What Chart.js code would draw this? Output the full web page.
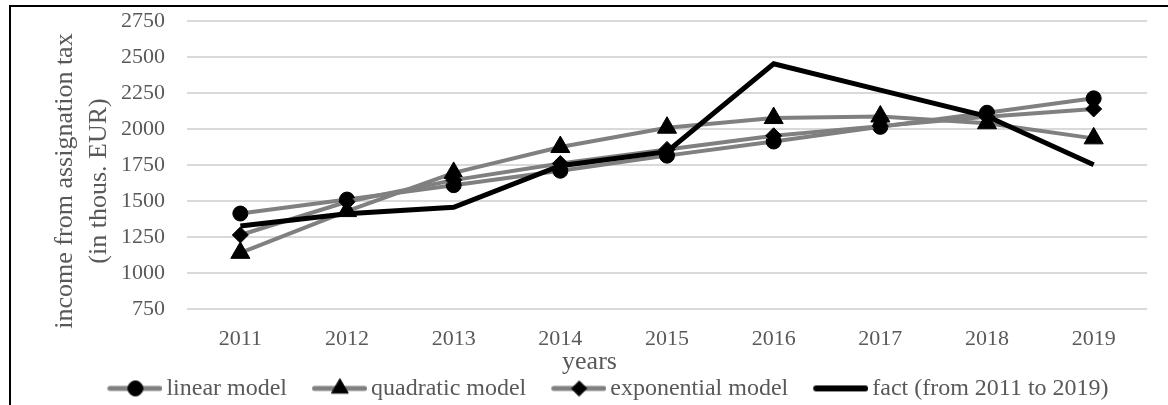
<!DOCTYPE html>
<html>
<head>
<meta charset="utf-8">
<script src="https://cdn.jsdelivr.net/npm/chart.js@4.4.0/dist/chart.umd.min.js"></script>
<style>
  html, body { margin: 0; padding: 0; background: #fff; overflow: hidden; }
  body { width: 1168px; height: 405px; position: relative; }
  #frame { position: absolute; left: 9px; top: 5px; width: 1300px; height: 600px;
           border-top: 2px solid #000; border-left: 2px solid #000; }
  #chart { position: absolute; left: 0; top: 0; }
</style>
</head>
<body>
<div id="frame"></div>
<canvas id="chart" width="1168" height="412"></canvas>
<script>
const years = ['2011', '2012', '2013', '2014', '2015', '2016', '2017', '2018', '2019'];
const linearModel = [1413, 1510, 1610, 1710, 1815, 1913, 2015, 2113, 2213];
const quadraticModel = [1140, 1430, 1695, 1875, 2009, 2076, 2087, 2040, 1935];
const exponentialModel = [1264, 1495, 1645, 1760, 1858, 1953, 2020, 2085, 2139];
const fact = [1326, 1412, 1456, 1745, 1843, 2453, 2270, 2088, 1752];
const yTicks = [750, 1000, 1250, 1500, 1750, 2000, 2250, 2500, 2750];

const GRAY = '#808080';
const TEXT = '#595959';
const FONT = "'Liberation Serif', 'Times New Roman', serif";

// legend icons: line sample with the marker in the middle
function legendIcon(color, lineWidth, pointStyle, radius) {
  const c = document.createElement('canvas');
  c.width = 84;
  c.height = 22;
  const g = c.getContext('2d');
  g.strokeStyle = color;
  g.lineWidth = lineWidth;
  g.lineCap = 'round';
  g.beginPath();
  g.moveTo(29 + lineWidth / 2, 11);
  g.lineTo(84 - lineWidth / 2, 11);
  g.stroke();
  if (pointStyle) {
    g.fillStyle = '#000';
    g.strokeStyle = '#000';
    g.lineWidth = 1;
    Chart.helpers.drawPoint(g, { pointStyle, radius, rotation: 0, borderWidth: 1 }, 57, 11);
  }
  return c;
}

const icons = [
  legendIcon(GRAY, 5, 'circle', 7.5),
  legendIcon(GRAY, 5, 'triangle', 9.5),
  legendIcon(GRAY, 5, 'rectRot', 7.5),
  legendIcon('#000', 6, null, 0)
];

// the legend sits a little right of the "years" title in the original
const shiftLegend = {
  id: 'shiftLegend',
  afterLayout(chart) {
    chart.legend.left += 8;
    chart.legend.right += 8;
  }
};

// y title is centred a bit below the plot centre in the original
const lowerYTitle = {
  id: 'lowerYTitle',
  beforeDraw(chart) {
    const s = chart.scales.y;
    if (s._lowered) return;
    const draw = s.drawTitle;
    s.drawTitle = function () {
      this.ctx.save();
      this.ctx.translate(0, 16);
      draw.call(this);
      this.ctx.restore();
    };
    s._lowered = true;
  }
};

new Chart(document.getElementById('chart'), {
  type: 'line',
  data: {
    labels: years,
    datasets: [
      { label: 'linear model', data: linearModel, borderColor: GRAY, borderWidth: 4,
        pointStyle: 'circle', pointRadius: 7.5, pointBackgroundColor: '#000', pointBorderColor: '#000', pointBorderWidth: 1, order: 3 },
      { label: 'quadratic model', data: quadraticModel, borderColor: GRAY, borderWidth: 4,
        pointStyle: 'triangle', pointRadius: 11, pointBackgroundColor: '#000', pointBorderColor: '#000', pointBorderWidth: 1, order: 2 },
      { label: 'exponential model', data: exponentialModel, borderColor: GRAY, borderWidth: 4,
        pointStyle: 'rectRot', pointRadius: 8, pointBackgroundColor: '#000', pointBorderColor: '#000', pointBorderWidth: 1, order: 1 },
      { label: 'fact (from 2011 to 2019)', data: fact, borderColor: '#000', borderWidth: 5,
        pointRadius: 0, order: 0 }
    ]
  },
  options: {
    responsive: false,
    animation: false,
    layout: { padding: { left: 32, right: 21, top: 21, bottom: 1.6 } },
    plugins: {
      tooltip: { enabled: false },
      title: {
        display: true,
        position: 'bottom',
        text: 'years',
        color: TEXT,
        weight: 500,
        font: { family: FONT, size: 26, weight: 'normal', lineHeight: 0.8 },
        padding: { top: 1.6, bottom: 0 }
      },
      legend: {
        position: 'bottom',
        weight: 1000,
        labels: {
          usePointStyle: true,
          pointStyleWidth: 68,
          padding: 4,
          color: TEXT,
          font: { family: FONT, size: 24 },
          generateLabels: chart => chart.data.datasets.map((ds, i) => ({
            text: ds.label,
            pointStyle: icons[i],
            fontColor: TEXT,
            fillStyle: 'transparent',
            strokeStyle: 'transparent',
            lineWidth: 0,
            hidden: false,
            datasetIndex: i
          }))
        }
      }
    },
    scales: {
      x: {
        offset: true,
        grid: { display: false, drawTicks: false },
        border: { display: false },
        afterFit: scale => { scale.height = 41; },
        ticks: { color: TEXT, padding: 19, font: { family: FONT, size: 22, lineHeight: 1.0 } }
      },
      y: {
        min: 750,
        max: 2750,
        afterBuildTicks: scale => { scale.ticks = yTicks.map(v => ({ value: v })); },
        afterFit: scale => {
          scale.width = 155;
          scale.paddingTop = 0;
          scale.paddingBottom = 0;
        },
        grid: { color: '#d9d9d9', lineWidth: 2, drawTicks: false },
        border: { display: false },
        ticks: { color: TEXT, padding: 22, font: { family: FONT, size: 22 }, callback: v => String(v) },
        title: {
          display: true,
          text: ['income from assignation tax', '(in thous. EUR)'],
          color: TEXT,
          font: { family: FONT, size: 26, lineHeight: 1.3 },
          padding: { top: 16, bottom: 0 }
        }
      }
    }
  },
  plugins: [shiftLegend, lowerYTitle]
});
</script>
</body>
</html>
